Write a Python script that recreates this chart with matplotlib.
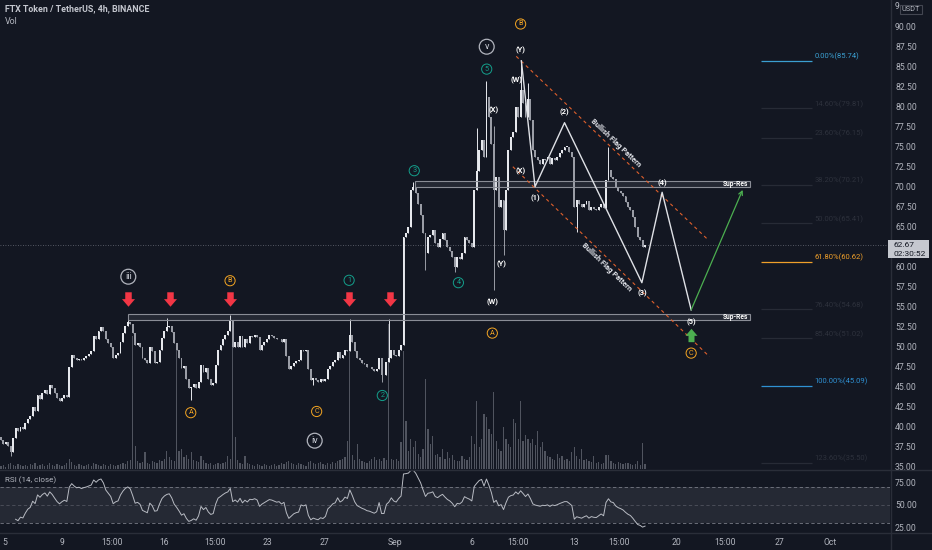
import numpy as np
import pandas as pd
import matplotlib
matplotlib.use("Agg")
import matplotlib.pyplot as plt
from matplotlib.patches import Rectangle
from matplotlib.lines import Line2D
from matplotlib.path import Path

plt.rcParams['font.family'] = ['Roboto', 'DejaVu Sans']

# ---- values: FTT/USDT 4h candles, Aug 4 20:00 -> Sep 17 20:00 ----
first_open = 38.7
closes = [
    38.3, 37.8, 38.1, 37.6, 36.8, 38.6, 39.8, 39.4, 39.9, 39.7,
    40.4, 41.0, 41.3, 42.4, 42.0, 43.9, 43.5, 44.2, 44.6, 44.1,
    45.2, 44.8, 44.2, 43.6, 43.2, 43.6, 43.9, 43.7, 47.5, 49.0,
    48.6, 48.3, 48.5, 48.3, 48.6, 48.8, 49.1, 49.4, 51.3, 51.0,
    52.0, 52.4, 51.9, 50.9, 50.4, 49.9, 48.6, 49.0, 49.2, 50.6,
    51.7, 52.6, 53.1, 52.8, 51.7, 50.2, 50.4, 50.0, 48.6, 48.3,
    48.0, 50.0, 49.4, 48.0, 48.1, 49.6, 51.1, 51.9, 52.4, 52.6,
    51.8, 50.4, 49.6, 48.6, 47.3, 47.6, 46.0, 44.8, 45.0, 45.3,
    44.8, 45.6, 47.7, 46.8, 47.3, 46.0, 45.2, 45.4, 47.7, 49.6,
    50.2, 50.9, 51.5, 51.9, 53.3, 50.0, 50.6, 50.0, 51.3, 50.0,
    50.9, 50.4, 51.3, 51.2, 51.5, 51.2, 49.6, 50.2, 50.6, 51.0,
    51.4, 51.3, 51.1, 50.9, 51.0, 50.6, 50.9, 48.8, 47.2, 47.6,
    48.0, 48.2, 48.3, 49.6, 49.4, 49.6, 47.2, 45.8, 46.1, 45.8,
    45.6, 45.9, 45.7, 46.0, 47.2, 47.6, 48.1, 48.3, 49.3, 48.6,
    48.9, 49.6, 49.4, 51.5, 50.6, 49.4, 48.6, 48.3, 48.0, 47.8,
    47.5, 47.4, 47.2, 47.0, 47.2, 48.6, 46.4, 46.4, 48.1, 48.6,
    49.6, 49.0, 48.8, 49.6, 50.2, 63.7, 64.2, 65.0, 69.6, 70.0,
    69.2, 67.9, 66.5, 64.2, 61.7, 63.7, 64.0, 64.6, 62.9, 62.5,
    63.5, 64.2, 63.3, 62.5, 62.0, 61.2, 60.0, 61.2, 61.0, 61.7,
    63.7, 63.3, 63.0, 62.5, 69.6, 72.0, 74.6, 75.8, 73.7, 81.2,
    78.7, 75.4, 69.6, 71.2, 67.5, 68.3, 64.6, 69.6, 74.6, 76.2,
    76.8, 80.0, 78.7, 82.1, 80.5, 78.7, 81.0, 78.3, 74.6, 73.7,
    73.3, 72.9, 73.5, 73.3, 73.7, 72.9, 73.6, 73.3, 73.7, 74.2,
    74.6, 75.0, 75.0, 74.4, 73.7, 67.5, 68.3, 67.9, 67.5, 67.9,
    68.2, 67.1, 67.5, 67.2, 67.1, 67.5, 67.9, 67.3, 70.8, 72.1,
    71.2, 71.0, 70.0, 69.5, 69.2, 68.8, 68.1, 67.5, 67.1, 66.2,
    65.0, 63.7, 63.3, 62.5, 62.67,
]
volume_k = [
    3, 4, 2, 5, 6, 4, 3, 5, 4, 3,
    4, 3, 5, 4, 6, 3, 4, 5, 3, 4,
    6, 4, 3, 5, 4, 3, 4, 6, 10, 7,
    4, 3, 5, 4, 3, 4, 5, 3, 6, 5,
    4, 3, 5, 4, 3, 5, 4, 3, 4, 5,
    6, 5, 8, 9, 133, 23, 8, 6, 7, 17,
    6, 5, 8, 7, 6, 9, 8, 10, 18, 12,
    9, 8, 120, 18, 20, 12, 14, 10, 17, 9,
    8, 7, 13, 9, 6, 5, 6, 4, 5, 6,
    5, 6, 7, 13, 10, 128, 32, 9, 6, 5,
    13, 6, 5, 4, 3, 5, 4, 3, 5, 4,
    3, 4, 5, 3, 4, 6, 5, 7, 8, 6,
    5, 4, 6, 5, 4, 3, 7, 8, 6, 5,
    6, 7, 5, 4, 6, 5, 7, 6, 8, 9,
    10, 12, 28, 130, 14, 9, 25, 10, 8, 7,
    6, 8, 10, 12, 9, 10, 8, 11, 9, 145,
    10, 9, 10, 8, 27, 118, 48, 18, 30, 22,
    28, 15, 12, 20, 90, 40, 25, 33, 14, 15,
    12, 20, 10, 17, 11, 14, 9, 8, 8, 13,
    10, 9, 12, 33, 25, 68, 22, 30, 55, 52,
    40, 35, 77, 28, 20, 18, 42, 30, 25, 22,
    50, 46, 30, 68, 28, 34, 30, 26, 30, 24,
    38, 22, 27, 18, 13, 12, 10, 9, 15, 11,
    13, 9, 10, 8, 17, 22, 13, 10, 20, 9,
    10, 8, 7, 13, 6, 7, 5, 6, 14, 14,
    8, 6, 5, 7, 6, 5, 6, 6, 5, 4,
    5, 8, 4, 26, 5,
]
wick_high_idx = [52, 68, 94, 143, 159, 169, 195, 199, 202, 213, 216, 249]
wick_high = [53.6, 53.6, 54.0, 53.4, 53.5, 70.6, 77.4, 83.2, 77.6, 85.74, 83.0, 75.0]
wick_low_idx = [4, 78, 128, 156, 174, 186, 202, 206, 236]
wick_low = [36.3, 43.3, 45.2, 45.6, 59.6, 59.3, 57.1, 61.5, 64.4]

last_price = 62.67
countdown = "02:30:52"

# drawings (candle index, price)
proj_idx = [213.3, 218.9, 231.0, 262.7, 271.0, 282.9]
proj_price = [85.74, 70.0, 78.0, 58.0, 69.3, 54.6]
target_idx = [282.9, 304.0]
target_price = [54.6, 69.6]
flag_upper_idx = [211.2, 289.7]
flag_upper_price = [86.3, 63.4]
flag_lower_idx = [209.8, 290.4]
flag_lower_price = [72.5, 48.75]
flag_text_idx = [251.9, 248.4]
flag_text_price = [75.5, 60.0]
zone_start = [169.6, 52.0]
zone_end = [306.9, 306.9]
zone_low = [69.93, 53.34]
zone_high = [70.70, 54.09]
fib_high = 85.74
fib_low = 45.09
fib_ratios = [0.0, 0.146, 0.236, 0.382, 0.5, 0.618, 0.764, 0.854, 1.0, 1.236]
sell_arrow_idx = [52.2, 69.2, 93.8, 142.7, 159.3]
sell_arrow_price = [55.9, 55.9, 55.9, 55.9, 55.9]
buy_arrow_idx = [282.9]
buy_arrow_price = [51.45]

roman_labels = [('iii', 52.2, 58.75), ('iv', 128.6, 38.25), ('v', 199.1, 87.5)]
abc_labels = [('B', 93.9, 58.25), ('A', 77.8, 41.75), ('C', 129.4, 41.9),
              ('B', 213.0, 90.34), ('A', 201.4, 51.7), ('C', 282.9, 49.2)]
impulse_labels = [('1', 142.7, 58.3), ('2', 156.3, 43.9), ('3', 169.4, 72.0),
                  ('4', 187.5, 58.0), ('5', 199.1, 84.7)]
sub_labels = [('(Y)', 213.0, 87.0), ('(W)', 211.2, 83.3), ('(X)', 201.9, 79.6),
              ('(X)', 213.0, 71.9), ('(1)', 219.1, 68.6), ('(2)', 231.0, 79.3),
              ('(Y)', 205.2, 60.3), ('(W)', 201.5, 55.5), ('(3)', 262.9, 56.7),
              ('(4)', 270.9, 70.4), ('(5)', 282.9, 53.1)]

price_ticks = [35.0, 37.5, 40.0, 42.5, 45.0, 47.5, 50.0, 52.5, 55.0, 57.5, 60.0,
               62.5, 65.0, 67.5, 70.0, 72.5, 75.0, 77.5, 80.0, 82.5, 85.0, 87.5, 90.0]
rsi_ticks = [25, 50, 75]
time_tick_idx = [1.6, 25, 45.5, 67, 87.7, 109, 132.5, 161.5, 193, 211.9, 235, 253.3, 277, 296.7, 319, 339.8]
time_tick_labels = ['5', '9', '15:00', '16', '15:00', '23', '27', 'Sep', '6', '15:00',
                    '13', '15:00', '20', '15:00', '27', 'Oct']

# ---- styling ----
BG = '#131722'
TXT = '#b2b5be'
GRID = '#2a2e39'
W, H = 932, 550


def fbox(x0, y0, x1, y1):
    return [x0 / W, 1 - y1 / H, (x1 - x0) / W, (y1 - y0) / H]


fig = plt.figure(figsize=(W / 100, H / 100), dpi=100, facecolor=BG)
ax_vol = fig.add_axes(fbox(0, 0, 890, 469))
ax = fig.add_axes(fbox(0, 0, 890, 469))
ax_rsi = fig.add_axes(fbox(0, 470, 890, 532))

xlim = (-0.39, 364.4)
for a in (ax_vol, ax, ax_rsi):
    a.set_xlim(*xlim)
    for s in a.spines.values():
        s.set_visible(False)
ax_vol.set_facecolor(BG)
ax.set_facecolor('none')
ax_rsi.set_facecolor(BG)
ax.set_ylim(34.71, 93.34)

# volume
n = len(closes)
x = np.arange(n)
ax_vol.bar(x, volume_k, width=0.5, color='#50545f', linewidth=0)
ax_vol.set_ylim(0, 469)
ax_vol.set_xticks([])
ax_vol.set_yticks([])

# candles
c = np.array(closes)
o = np.r_[first_open, c[:-1]]
hi = np.maximum(o, c)
lo = np.minimum(o, c)
hi[wick_high_idx] = np.maximum(hi[wick_high_idx], wick_high)
lo[wick_low_idx] = np.minimum(lo[wick_low_idx], wick_low)
cols = np.where(c >= o, '#e6e8ed', '#9a9da6')
ax.vlines(x, lo, hi, colors=cols, lw=0.7, zorder=3)
ax.bar(x, np.maximum(np.abs(c - o), 0.08), bottom=np.minimum(o, c), width=0.78,
       color=cols, linewidth=0, zorder=3)

# support / resistance zones
for s0, s1, zl, zh in zip(zone_start, zone_end, zone_low, zone_high):
    ax.add_patch(Rectangle((s0, zl), s1 - s0, zh - zl, facecolor=(0.55, 0.57, 0.62, 0.14),
                           edgecolor='#8a8d96', lw=0.8, zorder=4))
    ax.text(s1 - 0.8, (zl + zh) / 2, 'Sup-Res', ha='right', va='center', fontsize=4.8,
            color='white', fontweight='bold', zorder=6)

# fibonacci retracement
fib_style = {0.0: '#3b9fd1', 0.618: '#f0a02a', 1.0: '#2f91d3'}
for r in fib_ratios:
    lvl = fib_high - r * (fib_high - fib_low)
    col = fib_style.get(r, '#272b36')
    tcol = fib_style.get(r, '#2d313c')
    ax.hlines(lvl, 311.6, 332.4, color=col, lw=0.9, zorder=2)
    ax.text(333.4, lvl + 0.55, f'{r * 100:.2f}%({lvl:.2f})', fontsize=5.5, color=tcol,
            va='center', ha='left', zorder=2)

# last price line
ax.axhline(last_price, color='#6a6d78', lw=0.6, ls=(0, (1, 2)), zorder=2)

# bullish flag channel
ax.plot(flag_upper_idx, flag_upper_price, color='#e0602c', lw=0.8, ls=(0, (3, 3)), zorder=5)
ax.plot(flag_lower_idx, flag_lower_price, color='#e0602c', lw=0.8, ls=(0, (3, 3)), zorder=5)
for (xi, pr), (lx, ly) in zip(zip(flag_text_idx, flag_text_price),
                              [(flag_upper_idx, flag_upper_price), (flag_lower_idx, flag_lower_price)]):
    p0 = ax.transData.transform((lx[0], ly[0]))
    p1 = ax.transData.transform((lx[1], ly[1]))
    ang = np.degrees(np.arctan2(p1[1] - p0[1], p1[0] - p0[0]))
    ax.text(xi, pr, 'Bullish Flag Pattern', rotation=ang, rotation_mode='anchor',
            ha='center', va='center', fontsize=5.4, color='#e6e8ee', fontweight='bold', zorder=6)

# projected waves
ax.plot(proj_idx, proj_price, color='#dfe1e6', lw=1.0, zorder=5)
ax.annotate('', xy=(target_idx[1], target_price[1]), xytext=(target_idx[0], target_price[0]),
            arrowprops=dict(arrowstyle='->', color='#4caf50', lw=0.9, mutation_scale=7,
                            shrinkA=0, shrinkB=0), zorder=5)

# arrows
down_arrow = Path([(-0.45, 1), (0.45, 1), (0.45, 0.05), (0.9, 0.05), (0, -1),
                   (-0.9, 0.05), (-0.45, 0.05), (-0.45, 1)], closed=True)
up_arrow = Path([(-0.45, -1), (0.45, -1), (0.45, -0.05), (0.9, -0.05), (0, 1),
                 (-0.9, -0.05), (-0.45, -0.05), (-0.45, -1)], closed=True)
ax.plot(sell_arrow_idx, sell_arrow_price, ls='none', marker=down_arrow, markersize=10.4,
        color='#f23645', markeredgewidth=0, zorder=7)
ax.plot(buy_arrow_idx, buy_arrow_price, ls='none', marker=up_arrow, markersize=9.6,
        color='#4caf50', markeredgewidth=0, zorder=7)

# wave labels
for t, xi, pr in roman_labels:
    ax.text(xi, pr, t, ha='center', va='center', fontsize=6.6, color='#d1d4dc', zorder=8,
            bbox=dict(boxstyle='circle,pad=0.32', fc='none', ec='#b2b5be', lw=0.9))
for t, xi, pr in abc_labels:
    ax.text(xi, pr, t, ha='center', va='center', fontsize=5.2, color='#f5a623', zorder=8,
            bbox=dict(boxstyle='circle,pad=0.22', fc='none', ec='#f5a623', lw=0.7))
for t, xi, pr in impulse_labels:
    ax.text(xi, pr, t, ha='center', va='center', fontsize=5.2, color='#14a08c', zorder=8,
            bbox=dict(boxstyle='circle,pad=0.22', fc='none', ec='#14a08c', lw=0.7))
for t, xi, pr in sub_labels:
    ax.text(xi, pr, t, ha='center', va='center', fontsize=5.5, color='white',
            fontweight='bold', zorder=8)

# price axis (62.50 sits under the last-price tag)
ax.yaxis.tick_right()
ax.set_yticks(price_ticks)
ax.set_yticklabels(['' if v == 62.5 else f'{v:.2f}' for v in price_ticks])
ax.tick_params(axis='y', length=0, pad=3.6, labelsize=6.2, colors=TXT)
ax.tick_params(axis='x', bottom=False, labelbottom=False)

# RSI pane
s = pd.Series(c)
d = s.diff()
avg_up = d.clip(lower=0).ewm(alpha=1 / 14, adjust=False).mean()
avg_dn = (-d.clip(upper=0)).ewm(alpha=1 / 14, adjust=False).mean()
rsi = 100 - 100 / (1 + avg_up / avg_dn)
ax_rsi.set_ylim(20.3, 88.5)
ax_rsi.axhspan(30, 70, color='#252934', lw=0)
for lvl, col in ((70, '#787b86'), (50, '#4f525d'), (30, '#787b86')):
    ax_rsi.axhline(lvl, color=col, lw=0.6, ls=(0, (4, 3)))
ax_rsi.plot(x[6:], rsi.values[6:], color='#b8bbc3', lw=0.7)
ax_rsi.yaxis.tick_right()
ax_rsi.set_yticks(rsi_ticks)
ax_rsi.set_yticklabels([f'{v:.2f}' for v in rsi_ticks])
ax_rsi.set_xticks(time_tick_idx)
ax_rsi.set_xticklabels(time_tick_labels)
ax_rsi.tick_params(axis='both', length=0, labelsize=6.2, colors=TXT)
ax_rsi.tick_params(axis='y', pad=3.6)
ax_rsi.tick_params(axis='x', pad=4.2)

# pane separators
for (x0, y0, x1, y1) in ((0, 469.5, W, 469.5), (0, 532.5, W, 532.5), (890.5, 0, 890.5, H)):
    fig.add_artist(Line2D([x0 / W, x1 / W], [1 - y0 / H, 1 - y1 / H], color=GRID, lw=1,
                          transform=fig.transFigure))

# header texts
fig.text(5 / W, 1 - 9 / H, 'FTX Token / TetherUS, 4h, BINANCE', fontsize=6.4, color='#c3c6ce',
         va='center', ha='left', fontweight='semibold')
fig.text(5 / W, 1 - 22 / H, 'Vol', fontsize=6.4, color=TXT, va='center', ha='left')
fig.text(5 / W, 1 - 480 / H, 'RSI (14, close)', fontsize=5.8, color=TXT, va='center', ha='left')

# currency tag (top label 92.50 peeks out as a lone "9") and last price tag
fig.text(895 / W, 1 - 6.5 / H, '9', fontsize=6.2, color=TXT, ha='left', va='center')
fig.add_artist(Rectangle((900 / W, 1 - 14 / H), 22 / W, 9.5 / H, transform=fig.transFigure,
                         facecolor=BG, edgecolor='#434651', lw=0.8, zorder=5))
fig.text(911 / W, 1 - 9.3 / H, 'USDT', fontsize=5.3, color=TXT, ha='center', va='center', zorder=6)
fig.add_artist(Rectangle((888 / W, 1 - 258 / H), 41 / W, 18 / H, transform=fig.transFigure,
                         facecolor='#c5c8cf', edgecolor='none', zorder=5))
fig.text(893 / W, 1 - 245 / H, f'{last_price:.2f}', fontsize=6, color='#131722',
         ha='left', va='center', zorder=6)
fig.text(893 / W, 1 - 253.5 / H, countdown, fontsize=6, color='#131722',
         ha='left', va='center', zorder=6)

fig.savefig('out.png', dpi=100, facecolor=BG)
